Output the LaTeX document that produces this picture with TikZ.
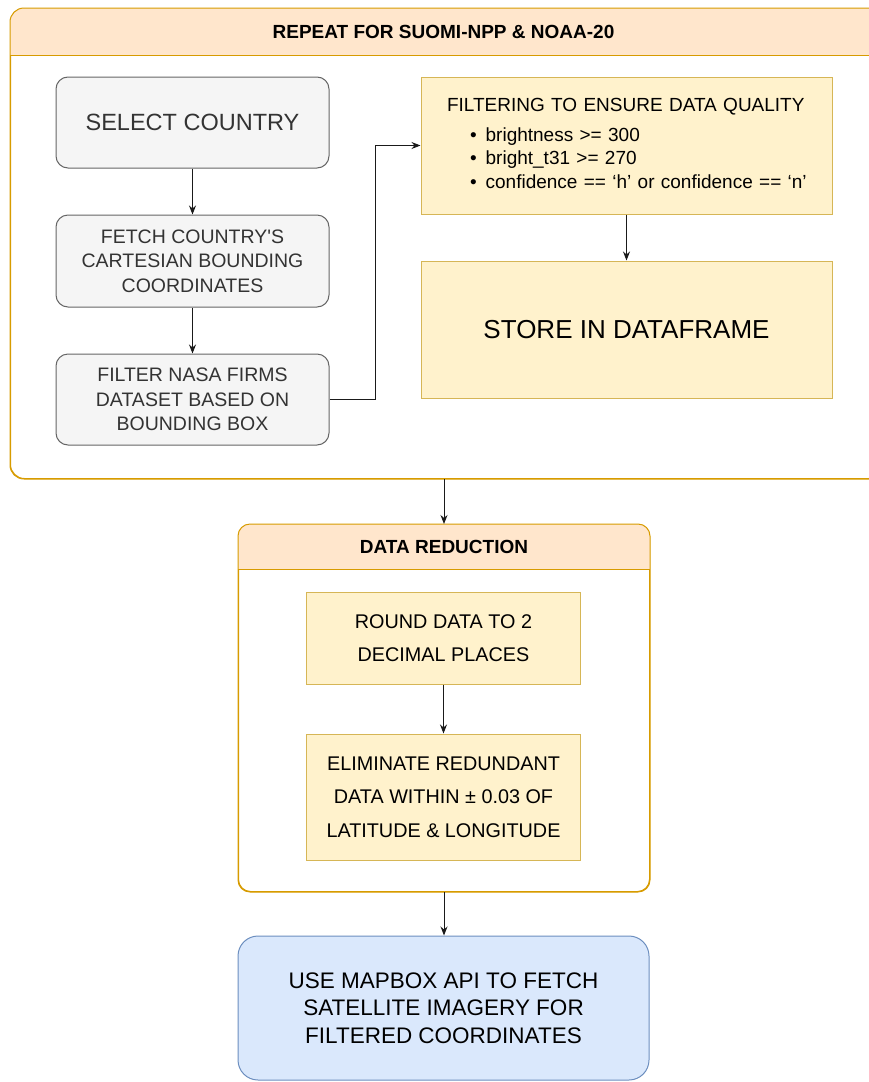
\documentclass[tikz,border=0pt]{standalone}
\usepackage{fontspec}
\setmainfont{Liberation Sans}
\usetikzlibrary{positioning,arrows.meta}
\definecolor{grayfill}{HTML}{F5F5F5}
\definecolor{grayline}{HTML}{666666}
\definecolor{graytext}{HTML}{333333}
\definecolor{yellowfill}{HTML}{FFF2CC}
\definecolor{yellowline}{HTML}{D6B656}
\definecolor{groupfill}{HTML}{FFE6CC}
\definecolor{groupline}{HTML}{D79B00}
\definecolor{bluefill}{HTML}{DAE8FC}
\definecolor{blueline}{HTML}{6C8EBF}
\definecolor{flowline}{HTML}{1A1A1A}

\begin{document}
\begin{tikzpicture}[x=1pt,y=-1pt]
        \tikzset{graybox/.style={draw=grayline,fill=grayfill,text=graytext,rounded corners=12pt,
                line width=1pt,minimum width=273pt,minimum height=91pt,inner sep=0pt,align=center,
                font=\fontsize{19.5}{24.5}\selectfont},
            yellowbox/.style={draw=yellowline,fill=yellowfill,line width=1pt,inner sep=0pt,align=center},
            bluebox/.style={draw=blueline,fill=bluefill,rounded corners=20pt,line width=1pt,
                inner sep=0pt,align=center},
            group/.style={draw=groupline,fill=white,line width=1pt,inner sep=0pt,anchor=north west},
            grouptitle/.style={font=\fontsize{19}{23}\selectfont\bfseries},
            flow/.style={-{Stealth[length=9pt,width=7pt]},line width=1pt,draw=flowline}}
        \useasboundingbox (0,0) rectangle (868,1082);

        % repeat group
        \node[group,rounded corners=14pt,minimum width=872pt,minimum height=470pt] (repeatgrp) at (10,8) {};
        \begin{scope}
            \clip[rounded corners=14pt] (repeatgrp.north west) rectangle (repeatgrp.south east);
            \fill[groupfill] (repeatgrp.north west) rectangle ([yshift=-47pt]repeatgrp.north east);
        \end{scope}
        \draw[groupline,line width=1pt,rounded corners=14pt] (repeatgrp.north west) rectangle (repeatgrp.south east);
        \draw[groupline,line width=1pt] ([yshift=-47pt]repeatgrp.north west) -- ([yshift=-47pt]repeatgrp.north east);
        \node[grouptitle] (repeattitle) at (443.5,31.5) {REPEAT FOR SUOMI-NPP \& NOAA-20};

        \node[graybox,font=\fontsize{23.5}{28}\selectfont] (selcountry) at (192.5,122.5) {SELECT COUNTRY};
        \node[graybox,below=46pt of selcountry,minimum height=92pt] (fetchbox)
            {FETCH COUNTRY\textquotesingle S\\CARTESIAN BOUNDING\\COORDINATES};
        \node[graybox,below=46pt of fetchbox] (firmsbox) {FILTER NASA FIRMS\\DATASET BASED ON\\BOUNDING BOX};

        \node[yellowbox,minimum width=411pt,minimum height=137pt,text width=411pt,align=left,
            font=\fontsize{19}{23.5}\selectfont] (quality) at (626.5,145.5)
            {\hspace*{26pt}FILTERING TO ENSURE DATA QUALITY\\[6pt]
             \hspace*{49pt}\textbullet\hspace{9pt}brightness >= 300\\
             \hspace*{49pt}\textbullet\hspace{9pt}bright\_t31 >= 270\\
             \hspace*{49pt}\textbullet\hspace{9pt}confidence == ‘h’ or confidence == ‘n’\vspace{4pt}};
        \node[yellowbox,minimum width=411pt,minimum height=137pt,
            font=\fontsize{26}{30}\selectfont] (storebox) at (626.5,329.5) {STORE IN DATAFRAME};

        % data reduction group
        \node[group,rounded corners=12pt,minimum width=411pt,minimum height=367pt] (reducegrp) at (238,524) {};
        \begin{scope}
            \clip[rounded corners=12pt] (reducegrp.north west) rectangle (reducegrp.south east);
            \fill[groupfill] (reducegrp.north west) rectangle ([yshift=-45pt]reducegrp.north east);
        \end{scope}
        \draw[groupline,line width=1pt,rounded corners=12pt] (reducegrp.north west) rectangle (reducegrp.south east);
        \draw[groupline,line width=1pt] ([yshift=-45pt]reducegrp.north west) -- ([yshift=-45pt]reducegrp.north east);
        \node[grouptitle] (reducetitle) at ([yshift=-23pt]reducegrp.north) {DATA REDUCTION};

        \node[yellowbox,minimum width=274pt,minimum height=92pt,font=\fontsize{19.8}{33.3}\selectfont]
            (roundbox) at (443.5,638) {ROUND DATA TO 2\\DECIMAL PLACES};
        \node[yellowbox,below=49pt of roundbox,minimum width=274pt,minimum height=126pt,
            font=\fontsize{19.8}{33.3}\selectfont] (elimbox)
            {ELIMINATE REDUNDANT\\DATA WITHIN ± 0.03 OF\\LATITUDE \& LONGITUDE};

        \node[bluebox,minimum width=411pt,minimum height=144pt,font=\fontsize{22.5}{27.5}\selectfont]
            (mapbox) at (443.5,1008) {USE MAPBOX API TO FETCH\\SATELLITE IMAGERY FOR\\FILTERED COORDINATES};

        \draw[flow] (selcountry) -- (fetchbox);
        \draw[flow] (fetchbox) -- (firmsbox);
        \draw[flow] (firmsbox.east) -- ++(46,0) |- (quality.west);
        \draw[flow] (quality.south -| storebox.north) -- (storebox.north);
        \draw[flow] (repeatgrp.south -| reducegrp.north) -- (reducegrp.north);
        \draw[flow] (roundbox) -- (elimbox);
        \draw[flow] (reducegrp.south) -- (reducegrp.south |- mapbox.north);
    \end{tikzpicture}
\end{document}
